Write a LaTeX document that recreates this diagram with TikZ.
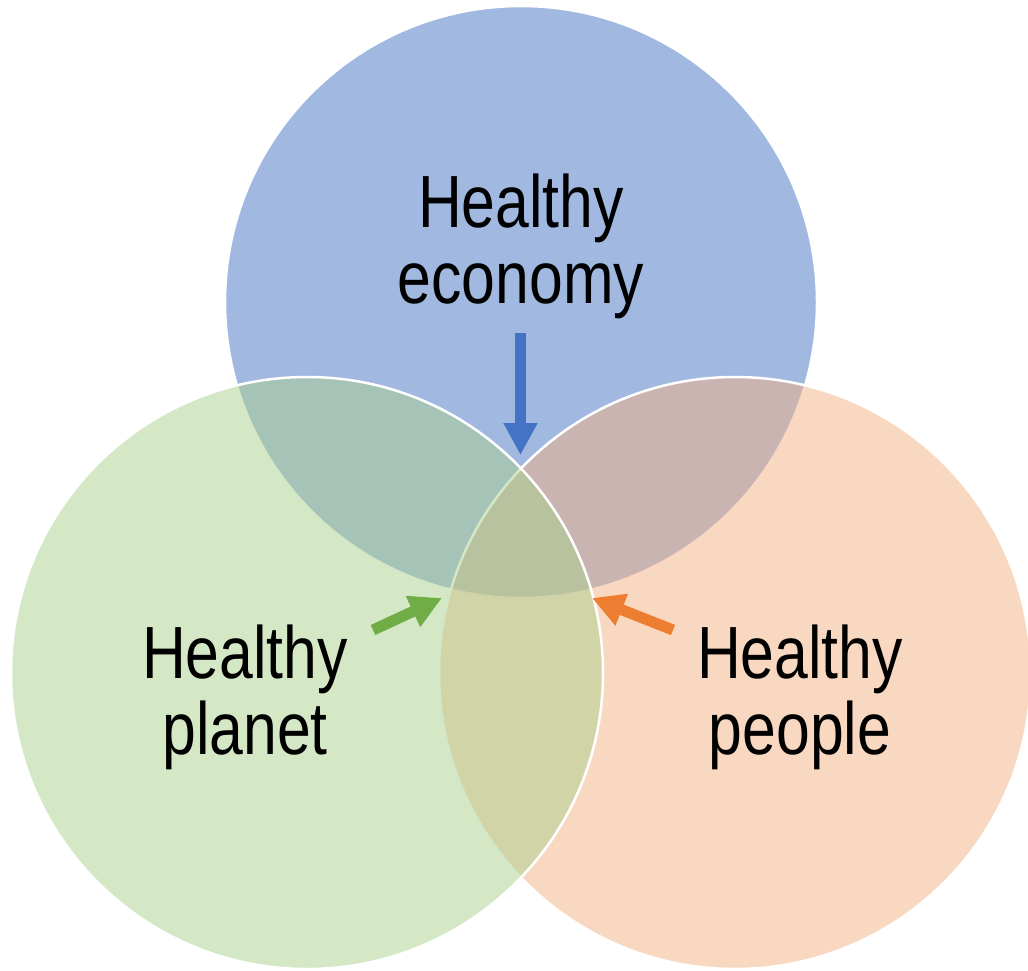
\documentclass[tikz,border=0pt]{standalone}
\usepackage{fontspec}
\setmainfont{Liberation Sans}[FakeStretch=0.82]
\usetikzlibrary{arrows.meta}
\definecolor{cblue}{HTML}{4472C4}
\definecolor{cgreen}{HTML}{A9D18E}
\definecolor{corange}{HTML}{F4B183}
\definecolor{agreen}{HTML}{70AD47}
\definecolor{aorange}{HTML}{ED7D31}
\tikzset{
  venn/.style={circle, draw=white, line width=2.5pt, fill opacity=0.5, draw opacity=1,
    minimum size=592pt, inner sep=0pt},
  lbl/.style={align=center, text=black, font=\fontsize{74}{76}\selectfont, inner sep=0pt},
  pointer/.style={line width=11pt, line cap=butt, -{Triangle[length=32pt,width=32pt]}},
}
\begin{document}
\begin{tikzpicture}[x=1pt, y=-1pt]
\useasboundingbox (0,0) rectangle (1028,970);
\node[venn, fill=cblue] (econ) at (521,302) {};
\node[venn, fill=corange] (people) at (735,673) {};
\node[venn, fill=cgreen] (planet) at (307,673) {};
\node[lbl] (econtext) at (521,246) {Healthy\\economy};
\node[lbl] (planettext) at (245,697) {Healthy\\planet};
\node[lbl] (peopletext) at (800,697) {Healthy\\people};
\coordinate (bt) at (520.5,333);
\coordinate (bh) at (520.5,455);
\coordinate (gt) at (373,630);
\coordinate (gh) at (442,598);
\coordinate (ot) at (673,630);
\coordinate (oh) at (592,598);
\draw[pointer, draw=cblue, fill=cblue] (bt) -- (bh);
\draw[pointer, draw=agreen, fill=agreen] (gt) -- (gh);
\draw[pointer, draw=aorange, fill=aorange] (ot) -- (oh);
\end{tikzpicture}
\end{document}
